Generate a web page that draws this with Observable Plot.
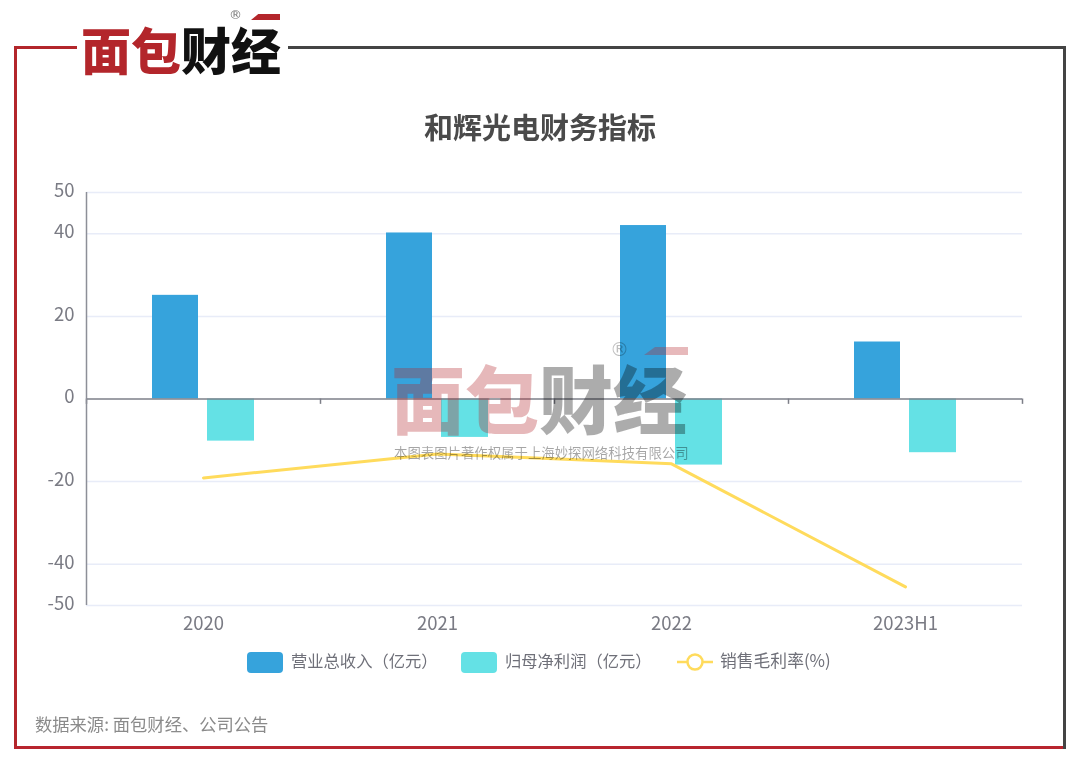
<!DOCTYPE html>
<html lang="zh">
<head>
<meta charset="utf-8">
<script src="https://cdn.jsdelivr.net/npm/d3@7"></script>
<script src="https://cdn.jsdelivr.net/npm/@observablehq/plot@0.6"></script>
<style>
  html, body { margin: 0; padding: 0; background: #fff; width: 1080px; height: 764px; overflow: hidden; }
  body { font-family: "Noto Sans CJK SC", "Noto Sans", sans-serif; position: relative; filter: blur(0.4px); }
  .abs { position: absolute; white-space: nowrap; }
  .line { position: absolute; }
  #chart { position: absolute; left: 0; top: 170px; }
  #chart svg { display: block; overflow: visible; }
  .legend-text { font-size: 16.3px; color: #6f7079; line-height: 20px; top: 650px; }
  .swatch { position: absolute; top: 652px; width: 36px; height: 21px; border-radius: 4px; }
  .logo-cn { font-weight: 900; letter-spacing: 0; line-height: 1; }
  .logo-cn .r { color: #b3262b; }
  .logo-cn .k { color: #111; }
  .reg { font-family: "DejaVu Sans", sans-serif; line-height: 1; }
</style>
</head>
<body>
<script>
const categories = ["2020", "2021", "2022", "2023H1"];
const revenue = [25.1, 40.2, 42.0, 13.8];
const netProfit = [-10.2, -9.3, -16.0, -13.0];
const grossMargin = [-19.1, -13.3, -15.7, -45.5];
const yTicks = [50, 40, 20, 0, -20, -40, -50];
const titleText = "和辉光电财务指标";
const legendLabels = ["营业总收入（亿元）", "归母净利润（亿元）", "销售毛利率(%)"];
const sourceText = "数据来源: 面包财经、公司公告";
const watermarkText = "本图表图片著作权属于上海妙探网络科技有限公司";
const logoRed = "面包";
const logoBlack = "财经";
const colors = ["#36a3dc", "#64e1e5", "#ffdb5c"];

function put(html) {
  const t = document.createElement("template");
  t.innerHTML = html.trim();
  return document.body.appendChild(t.content.firstChild);
}

// frame
put(`<div class="line" style="left:14px;top:46px;width:63px;height:3px;background:#b3262b"></div>`);
put(`<div class="line" style="left:14px;top:46px;width:3px;height:703px;background:#b3262b"></div>`);
put(`<div class="line" style="left:14px;top:746px;width:1051px;height:3px;background:#b8252e"></div>`);
put(`<div class="line" style="left:288px;top:46px;width:778px;height:3px;background:#444"></div>`);
put(`<div class="line" style="left:1063px;top:46px;width:3px;height:703px;background:#444"></div>`);

// logo
put(`<div class="abs logo-cn" style="left:81px;top:23px;font-size:50px"><span class="r">${logoRed}</span><span class="k">${logoBlack}</span></div>`);
put(`<div class="abs" style="left:251px;top:14px;width:29px;height:6px;background:#b3262b;clip-path:polygon(25% 0,100% 0,100% 100%,0 100%)"></div>`);
put(`<div class="abs reg" style="left:229px;top:8px;font-size:13px;color:#777">®</div>`);

// title
put(`<div class="abs" style="left:424px;top:105px;font-size:29px;line-height:42px;font-weight:700;color:#4a4a4a">${titleText}</div>`);

// chart
const rows = categories.map((c, i) => ({
  category: c, revenue: revenue[i], netProfit: netProfit[i], grossMargin: grossMargin[i]
}));
const chart = Plot.plot({
  width: 1080,
  height: 480,
  marginLeft: 86,
  marginRight: 58,
  marginTop: 22,
  marginBottom: 45,
  style: { fontFamily: '"Noto Sans CJK SC", "Noto Sans", sans-serif', fontSize: "16px", background: "transparent" },
  x: { type: "band", domain: categories, padding: 0, label: null },
  y: { domain: [-50, 50], label: null },
  marks: [
    Plot.ruleY(yTicks.filter(d => d !== 0), { y: d => d, stroke: "#e8ecf8", strokeWidth: 1.5 }),
    Plot.barY(rows, { x: "category", y1: () => 0, y2: "revenue", fill: colors[0], insetLeft: 66, insetRight: 122 }),
    Plot.barY(rows, { x: "category", y1: () => 0, y2: "netProfit", fill: colors[1], insetLeft: 121, insetRight: 66 }),
    Plot.line(rows, { x: "category", y: "grossMargin", stroke: colors[2], strokeWidth: 3 }),
    Plot.ruleY([0], { stroke: "#7d7f88", strokeWidth: 1.5 }),
    Plot.ruleX(categories, { x: d => d, y1: 0, y2: -1.3, dx: -117, stroke: "#7d7f88", strokeWidth: 1.5 }),
    Plot.ruleX(categories.slice(-1), { x: d => d, y1: 0, y2: -1.3, dx: 117, stroke: "#7d7f88", strokeWidth: 1.5 }),
    Plot.ruleX(categories.slice(0, 1), { x: d => d, y1: -50, y2: 50, dx: -117, stroke: "#8d8f98", strokeWidth: 1.5 }),
    Plot.axisY({ ticks: yTicks, tickSize: 0, tickPadding: 12, dy: -1.5, tickFormat: d => String(d), fill: "#7a7b84", fontSize: 18.5, anchor: "left" }),
    Plot.axisX({ tickSize: 0, tickPadding: 11, fill: "#7a7b84", fontSize: 18.5, anchor: "bottom" })
  ]
});
const holder = document.createElement("div");
holder.id = "chart";
holder.appendChild(chart);
document.body.appendChild(holder);

// legend
put(`<div class="swatch" style="left:247px;background:${colors[0]}"></div>`);
put(`<div class="abs legend-text" style="left:291px">${legendLabels[0]}</div>`);
put(`<div class="swatch" style="left:461px;background:${colors[1]}"></div>`);
put(`<div class="abs legend-text" style="left:505px">${legendLabels[1]}</div>`);
put(`<svg class="abs" style="left:677px;top:650px" width="36" height="24"><path d="M0 12H36" stroke="${colors[2]}" stroke-width="2.5"/><circle cx="18" cy="12" r="7.5" fill="#fff" stroke="${colors[2]}" stroke-width="2.5"/></svg>`);
put(`<div class="abs legend-text" style="left:720px;font-size:16.8px">${legendLabels[2]}</div>`);

// source
put(`<div class="abs" style="left:35px;top:713px;font-size:17.3px;line-height:22px;color:#8a8a8a">${sourceText}</div>`);

// watermark
put(`<div class="abs logo-cn" style="left:391px;top:359px;font-size:74px;opacity:.32"><span class="r">${logoRed}</span><span style="color:#000">${logoBlack}</span></div>`);
put(`<div class="abs" style="left:644px;top:347px;width:44px;height:8px;background:#b3262b;opacity:.32;clip-path:polygon(25% 0,100% 0,100% 100%,0 100%)"></div>`);
put(`<div class="abs reg" style="left:610px;top:340px;font-size:19px;color:#000;opacity:.25">®</div>`);
put(`<div class="abs" style="left:394px;top:443px;font-size:13.4px;line-height:18px;color:#000;opacity:.35">${watermarkText}</div>`);
</script>
</body>
</html>
